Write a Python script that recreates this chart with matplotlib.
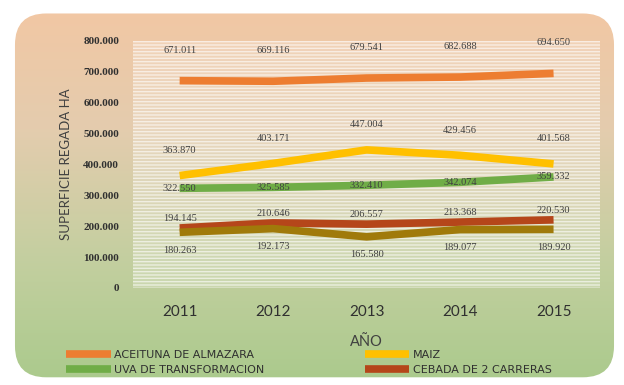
import numpy as np
import matplotlib
matplotlib.use("Agg")
import matplotlib.pyplot as plt
from matplotlib.patches import FancyBboxPatch
from matplotlib.colors import LinearSegmentedColormap
from matplotlib.ticker import FuncFormatter

# data
years = ["2011", "2012", "2013", "2014", "2015"]
aceituna = [671011, 669116, 679541, 682688, 694650]
maiz = [363870, 403171, 447004, 429456, 401568]
uva = [322550, 325585, 332410, 342074, 359332]
cebada = [194145, 210646, 206557, 213368, 220530]
otro = [180263, 192173, 165580, 189077, 189920]

series = [
    ("ACEITUNA DE ALMAZARA", aceituna, "#ED7D31", 22),
    ("MAIZ", maiz, "#FFC000", 18),
    ("UVA DE TRANSFORMACION", uva, "#70AD47", 0),
    ("CEBADA DE 2 CARRERAS", cebada, "#B5461A", 7),
    (None, otro, "#A07A0A", -13),
]

def miles(v, pos=None):
    return f"{int(round(v)):,}".replace(",", ".")

plt.rcParams['font.family'] = ['Lato', 'DejaVu Sans']
plt.rcParams['hatch.color'] = (1, 1, 1, 0.8)
plt.rcParams['hatch.linewidth'] = 1.0

fig = plt.figure(figsize=(6.24, 3.85), dpi=100)

# gradient background with rounded corners
bg = fig.add_axes([0, 0, 1, 1], zorder=-10)
bg.set_axis_off()
bg.set_xlim(0, 1)
bg.set_ylim(0, 1)
cmap = LinearSegmentedColormap.from_list(
    "bg", ["#AACA8C", "#C4CFA0", "#E4CCAE", "#F3C7A3"])
grad = np.linspace(0, 1, 256).reshape(-1, 1)
im = bg.imshow(grad, extent=[0, 1, 0, 1], origin="lower", cmap=cmap,
               aspect="auto")
box = FancyBboxPatch((0.024, 0.02), 0.96, 0.945,
                     boxstyle="round,pad=0,rounding_size=0.05",
                     transform=bg.transAxes, facecolor="none",
                     edgecolor="none", mutation_aspect=624 / 385)
bg.add_patch(box)
im.set_clip_path(box)

ax = fig.add_axes([0.213, 0.252, 0.749, 0.642])
ax.patch.set_facecolor((1, 1, 1, 0.2))
ax.patch.set_hatch("-----")
ax.patch.set_edgecolor((1, 1, 1, 0.6))

x = np.arange(len(years))
lines = {}
for name, vals, color, off in series:
    h, = ax.plot(x, vals, color=color, linewidth=5.5,
                 solid_capstyle="butt", label=name)
    lines[name] = h
    for xi, v in zip(x, vals):
        ax.annotate(miles(v), (xi, v), xytext=(0, off),
                    textcoords="offset points", ha="center", va="center",
                    fontsize=7.5, color="#404040", family="Liberation Serif")

ax.set_xlim(-0.5, 4.5)
ax.set_ylim(0, 800000)
ax.set_yticks(np.arange(0, 800001, 100000))
ax.yaxis.set_major_formatter(FuncFormatter(miles))
ax.set_xticks(x)
ax.set_xticklabels(years)
ax.tick_params(axis="both", length=0)
ax.tick_params(axis="y", pad=10, labelsize=8, labelcolor="#303030")
ax.tick_params(axis="x", pad=12, labelsize=11, labelcolor="#303030")
for lab in ax.get_yticklabels():
    lab.set_family("Liberation Serif")
    lab.set_weight("bold")
for s in ax.spines.values():
    s.set_visible(False)

ax.set_ylabel("SUPERFICIE REGADA HA", fontsize=9.5, color="#404040", labelpad=8)
ax.set_xlabel("AÑO", fontsize=10.5, color="#404040", labelpad=12)

order = ["ACEITUNA DE ALMAZARA", "UVA DE TRANSFORMACION",
         "MAIZ", "CEBADA DE 2 CARRERAS"]
fig.legend(handles=[lines[n] for n in order], loc="upper left",
           bbox_to_anchor=(0.09, 0.118), ncol=2, frameon=False,
           prop={"family": "DejaVu Sans", "size": 8}, handlelength=4,
           columnspacing=9, labelspacing=0.45, handletextpad=0.35,
           labelcolor="#303030")

fig.savefig("out.png", dpi=100)
